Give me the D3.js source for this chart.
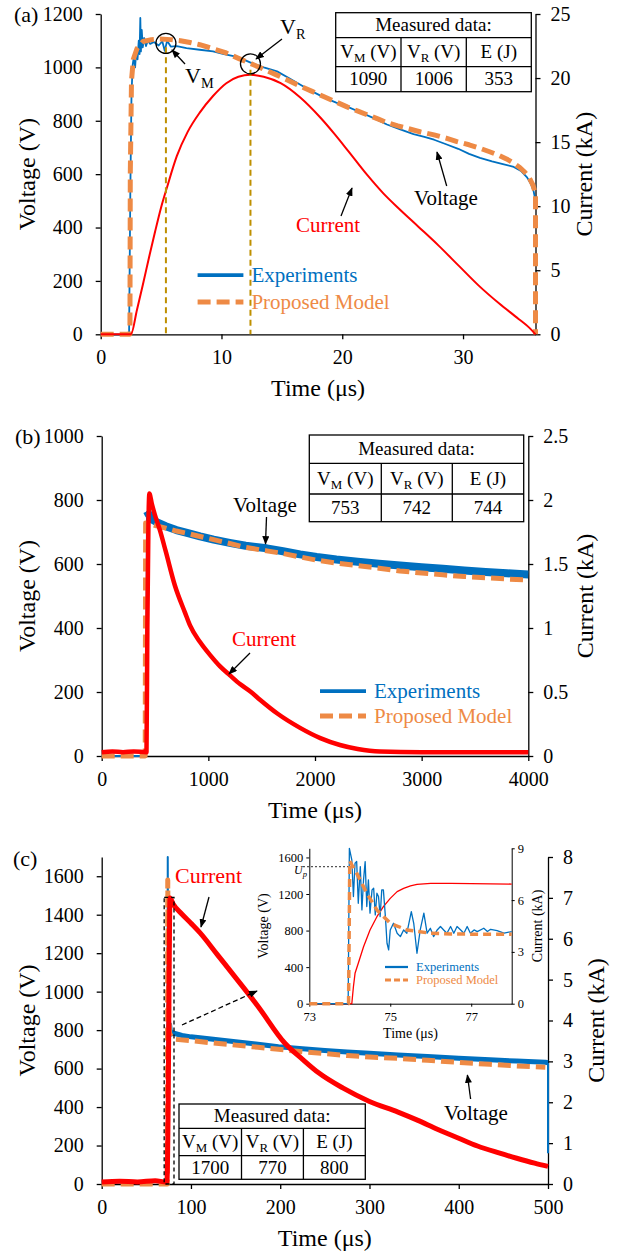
<!DOCTYPE html>
<html>
<head>
<meta charset="utf-8">
<script src="https://cdnjs.cloudflare.com/ajax/libs/d3/7.8.5/d3.min.js"></script>
<style>
body { margin: 0; background: #fff; }
</style>
</head>
<body>
<div id="chart-area"></div>
<script>
// ---------- data (time, value) ----------

// (a)
var expVoltA = [[0,0],[2.35,0],[2.45,520],[2.55,900],[2.65,1010],[2.75,1040],[2.85,1000],[2.95,1070],[3.05,1030],[3.15,1100],[3.22,1050],[3.28,1185],[3.33,1060],[3.4,1140],[3.48,1075],[3.6,1110],[3.75,1080],[3.9,1100],[4.1,1088],[4.4,1095],[4.8,1082],[5.1,1098],[5.3,1062],[5.5,1100],[5.8,1078],[6.3,1080],[7.1,1072],[8.2,1066],[9.3,1060],[10.2,1050],[11,1042],[11.8,1030],[12.6,1014],[13.5,1000],[14.6,985],[15.5,962],[16.5,936],[17.5,910],[18.6,885],[19.5,868],[20.4,853],[21.5,832],[22.6,810],[23.7,786],[24.8,768],[25.9,750],[26.8,740],[27.6,729],[28.6,712],[29.6,695],[30.5,676],[31.4,661],[32.4,648],[33.3,638],[34.2,627],[34.8,612],[35.3,588],[35.6,565],[35.85,535],[36,500]];
var modelVoltA = [[0,0],[2.42,0],[2.45,600],[2.55,950],[2.7,1030],[3.0,1070],[3.5,1097],[4.2,1104],[4.9,1106],[5.8,1104],[6.6,1100],[7.4,1093],[8.2,1085],[9.3,1070],[10.4,1054],[11.5,1032],[12.65,1010],[13.5,993],[14.5,973],[15.5,952],[16.5,930],[17.5,910],[18.5,890],[19.5,870],[20.4,852],[21.3,836],[22.2,820],[23.0,806],[23.7,793],[24.6,781],[25.5,770],[26.5,758],[27.6,747],[28.6,735],[29.5,722],[30.5,710],[31.4,697],[32.2,684],[33.0,670],[33.6,657],[34.2,641],[34.7,625],[35.1,608],[35.5,585],[35.8,558],[36.0,525],[36.0,0]];
var currentA = [[0,0],[2.5,0],[3.0,1.9],[3.5,3.9],[4.0,6.0],[4.5,8.0],[5.0,9.9],[5.5,11.5],[6.3,13.9],[7.2,15.8],[8.2,17.3],[9.3,18.6],[10.4,19.6],[11.4,20.1],[12.4,20.25],[13.5,20.1],[14.9,19.6],[16.5,18.5],[18.2,16.9],[19.3,15.7],[20.5,14.3],[22.1,12.4],[23.4,11.0],[24.7,9.8],[26.3,8.4],[28.0,6.9],[29.7,5.3],[31.3,3.8],[33.0,2.4],[34.6,1.2],[35.5,0.5],[36.0,0]];
var markA = [[5.4, 1090], [12.4, 1006]];      // V_M, V_R
var tableA = ["1090", "1006", "353"];

// (b)
var expVoltB = [[0,0],[415,0],[425,765],[440,755],[470,740],[520,730],[600,718],[700,706],[800,697],[922,686],[1050,676],[1200,666],[1350,657],[1547,649],[1700,640],[1860,630],[2016,622],[2200,614],[2400,607],[2600,601],[2797,595],[3000,590],[3200,585],[3400,580],[3600,575],[3800,571],[4000,567]];
var modelVoltB = [[0,0],[408,0],[412,728],[450,726],[515,719],[600,712],[700,703],[800,696],[922,686],[1050,676],[1200,664],[1350,652],[1547,641],[1700,633],[1860,622],[2016,612],[2200,603],[2400,595],[2600,587],[2797,578],[3000,572],[3200,566],[3400,561],[3600,557],[3800,553],[4000,550]];
var currentB = [[0,0.03],[100,0.035],[200,0.03],[300,0.035],[420,0.03],[428,1.0],[438,1.8],[447,2.05],[470,1.97],[500,1.88],[547,1.76],[600,1.6],[687,1.33],[781,1.12],[828,1.02],[922,0.89],[1015,0.79],[1110,0.7],[1203,0.63],[1300,0.56],[1400,0.5],[1484,0.44],[1650,0.33],[1860,0.22],[2050,0.14],[2234,0.086],[2400,0.055],[2609,0.035],[3000,0.03],[3500,0.03],[4000,0.03]];
var tableB = ["753", "742", "744"];

// (c)
var expVoltC = [[0,10],[15,6],[30,12],[45,8],[55,15],[65,8],[73.5,10],[74,1700],[74.5,1000],[75,800],[76,830],[77,790],[78,780],[80,785],[90,772],[100,765],[125,752],[150,740],[175,727],[198,714],[225,703],[250,694],[275,686],[300,680],[332,671],[365,663],[400,654],[435,646],[465,639],[497,633],[500,630],[500,160]];
var modelVoltC = [[0,0],[73.5,0],[74,1580],[74.5,1250],[75,880],[76,785],[78,765],[82.8,752],[100,745],[125,733],[150,722],[175,711],[198,700],[225,688],[250,678],[275,668],[300,660],[332,653],[365,643],[400,632],[435,622],[465,614],[497,607]];
var currentC = [[0,0.05],[20,0.07],[40,0.05],[60,0.08],[72,0.05],[73,0.05],[74.5,2],[75.5,5],[76.5,7.0],[80,6.85],[90,6.6],[100,6.38],[110,6.15],[130,5.6],[150,5.05],[175,4.35],[205,3.45],[225,3.05],[243,2.72],[270,2.35],[300,2.02],[332,1.76],[355,1.55],[376,1.34],[400,1.12],[421,0.93],[445,0.76],[465,0.63],[485,0.51],[500,0.43]];
var zoomBoxC = [70, 81, 1490];                 // t0, t1, V top
var tableC = ["1700", "770", "800"];

// (c) inset
var expVoltIn = [[73,0],[73.96,0],[73.99,1700],[74.05,1574],[74.09,1172],[74.13,1537],[74.17,1555],[74.21,1099],[74.26,1500],[74.3,1026],[74.34,1355],[74.38,1555],[74.42,1063],[74.46,1355],[74.5,990],[74.55,1245],[74.59,1263],[74.63,972],[74.67,1209],[74.71,1172],[74.75,953],[74.79,1245],[74.83,1245],[74.88,953],[74.92,661],[74.96,588],[75.0,807],[75.08,880],[75.17,771],[75.25,734],[75.33,807],[75.41,771],[75.52,1008],[75.58,880],[75.66,552],[75.74,807],[75.83,990],[75.91,771],[75.99,825],[76.07,734],[76.16,807],[76.24,844],[76.32,807],[76.4,771],[76.49,844],[76.57,771],[76.65,844],[76.74,807],[76.82,771],[76.9,844],[76.98,771],[77.07,807],[77.15,789],[77.31,825],[77.4,789],[77.48,814],[77.64,800],[77.81,771],[78.0,789]];
var modelVoltIn = [[73,0],[73.97,0],[74.0,1560],[74.05,1520],[74.17,1428],[74.42,1209],[74.67,1026],[75.0,880],[75.41,807],[75.99,771],[76.49,763],[77,761],[78,760]];
var currentIn = [[73,0],[74.05,0],[74.09,0.98],[74.13,1.76],[74.21,2.34],[74.34,3.3],[74.5,4.27],[74.67,5.04],[74.83,5.62],[75.0,6.1],[75.17,6.49],[75.33,6.68],[75.5,6.82],[75.66,6.91],[76.0,6.97],[76.5,6.97],[77,6.95],[78,6.93]];
var upIn = 1500;

// tick values
var ticksA = { x: [0,10,20,30], yL: [0,200,400,600,800,1000,1200], yR: [0,5,10,15,20,25] };
var ticksB = { x: [0,1000,2000,3000,4000], yL: [0,200,400,600,800,1000], yR: [0,0.5,1,1.5,2,2.5] };
var ticksC = { x: [0,100,200,300,400,500], yL: [0,200,400,600,800,1000,1200,1400,1600], yR: [0,1,2,3,4,5,6,7,8] };
var ticksIn = { x: [73,75,77], yL: [0,400,800,1200,1600], yR: [0,3,6,9] };

var headers = [["V","M"," (V)"], ["V","R"," (V)"], ["E (J)"]];

// ---------- styles ----------
var FONT = "Liberation Serif";
var BLUE = "#0070C0", ORANGE = "#EE8A45", RED = "#FF0000", GOLD = "#BF9000";

var svg = d3.select("#chart-area")
    .append("svg")
        .attr("width", 625)
        .attr("height", 1251)
        .attr("font-family", FONT);

svg.append("defs").append("marker")
    .attr("id", "arrow")
    .attr("viewBox", "0 0 10 8")
    .attr("refX", 9).attr("refY", 4)
    .attr("markerWidth", 9).attr("markerHeight", 7)
    .attr("markerUnits", "userSpaceOnUse")
    .attr("orient", "auto")
  .append("path")
    .attr("d", "M0,0 L10,4 L0,8 z")
    .attr("fill", "#000");

function fmt(d) { return d; }

function makePanel(p) {
    var x = d3.scaleLinear().domain(p.xDom).range([p.left, p.right]);
    var yL = d3.scaleLinear().domain(p.yLDom).range([p.bottom, p.top]);
    var yR = d3.scaleLinear().domain(p.yRDom).range([p.bottom, p.top]);

    function style(sel) {
        sel.attr("font-family", FONT).attr("font-size", p.fs);
        sel.select(".domain").attr("stroke", "#000").attr("stroke-width", p.sw);
        sel.selectAll(".tick line").attr("stroke", "#000").attr("stroke-width", p.sw);
        sel.selectAll("text").attr("fill", "#000").attr("font-family", FONT);
    }

    svg.append("g")
        .attr("transform", "translate(0," + p.bottom + ")")
        .call(d3.axisBottom(x).tickValues(p.ticks.x).tickFormat(fmt)
            .tickSize(p.tk).tickSizeOuter(0).tickPadding(p.padB))
        .call(style);

    svg.append("g")
        .attr("transform", "translate(" + p.left + ",0)")
        .call(d3.axisLeft(yL).tickValues(p.ticks.yL).tickFormat(fmt)
            .tickSize(p.tk).tickSizeOuter(0).tickPadding(p.padL))
        .call(style);

    svg.append("g")
        .attr("transform", "translate(" + p.right + ",0)")
        .call(d3.axisRight(yR).tickValues(p.ticks.yR).tickFormat(fmt)
            .tickSize(p.tk).tickSizeOuter(0).tickPadding(p.padR))
        .call(style);

    // axis titles
    var mid = (p.top + p.bottom) / 2;
    svg.append("text")
        .attr("transform", "translate(" + p.tL + "," + mid + ") rotate(-90)")
        .attr("text-anchor", "middle")
        .attr("font-family", FONT)
        .attr("font-size", p.tfs)
        .text("Voltage (V)");
    svg.append("text")
        .attr("transform", "translate(" + p.tR + "," + mid + ") rotate(-90)")
        .attr("text-anchor", "middle")
        .attr("font-family", FONT)
        .attr("font-size", p.tfs)
        .text("Current (kA)");
    svg.append("text")
        .attr("x", (p.left + p.right) / 2)
        .attr("y", p.bottom + p.tB)
        .attr("text-anchor", "middle")
        .attr("font-family", FONT)
        .attr("font-size", p.tfs)
        .text("Time (\u03bcs)");

    return { x: x, yL: yL, yR: yR };
}

function drawLine(data, x, y, color, width, dash, smooth) {
    var line = d3.line()
        .curve(smooth ? d3.curveMonotoneX : d3.curveLinear)
        .x(function(d) { return x(d[0]); })
        .y(function(d) { return y(d[1]); });
    svg.append("path")
        .datum(data)
        .attr("d", line)
        .attr("fill", "none")
        .attr("stroke", color)
        .attr("stroke-width", width)
        .attr("stroke-linejoin", "round")
        .attr("stroke-dasharray", dash || null);
}

function arrow(x1, y1, x2, y2, dash) {
    svg.append("line")
        .attr("x1", x1).attr("y1", y1).attr("x2", x2).attr("y2", y2)
        .attr("stroke", "#000")
        .attr("stroke-width", 1.3)
        .attr("stroke-dasharray", dash || null)
        .attr("marker-end", "url(#arrow)");
}

function label(x, y, txt, size, color) {
    return svg.append("text")
        .attr("x", x).attr("y", y)
        .attr("font-family", FONT)
        .attr("font-size", size)
        .attr("fill", color || "#000")
        .text(txt);
}

function subLabel(x, y, main, sub, size) {
    var t = svg.append("text").attr("x", x).attr("y", y)
        .attr("font-family", FONT).attr("font-size", size);
    t.append("tspan").text(main);
    t.append("tspan").attr("font-size", size * 0.65).attr("dy", size * 0.22).text(sub);
}

function legend(x0, x1, y1, y2, size, dashW, dash) {
    svg.append("line").attr("x1", x0).attr("x2", x1).attr("y1", y1).attr("y2", y1)
        .attr("stroke", BLUE).attr("stroke-width", dashW * 0.75);
    svg.append("line").attr("x1", x0).attr("x2", x1).attr("y1", y2).attr("y2", y2)
        .attr("stroke", ORANGE).attr("stroke-width", dashW).attr("stroke-dasharray", dash);
    label(x1 + 8, y1 + size * 0.33, "Experiments", size, BLUE);
    label(x1 + 8, y2 + size * 0.33, "Proposed Model", size, ORANGE);
}

function drawTable(cols, rows, vals, fs) {
    var g = svg.append("g").attr("font-family", FONT);
    g.append("rect")
        .attr("x", cols[0]).attr("y", rows[0])
        .attr("width", cols[3] - cols[0]).attr("height", rows[3] - rows[0])
        .attr("fill", "#fff").attr("stroke", "#000").attr("stroke-width", 1.3);
    [1, 2].forEach(function(i) {
        g.append("line").attr("x1", cols[0]).attr("x2", cols[3])
            .attr("y1", rows[i]).attr("y2", rows[i])
            .attr("stroke", "#000").attr("stroke-width", 1.3);
        g.append("line").attr("x1", cols[i]).attr("x2", cols[i])
            .attr("y1", rows[1]).attr("y2", rows[3])
            .attr("stroke", "#000").attr("stroke-width", 1.3);
    });
    function cy(r) { return (rows[r] + rows[r + 1]) / 2 + fs * 0.33; }
    g.append("text")
        .attr("x", (cols[0] + cols[3]) / 2).attr("y", cy(0))
        .attr("text-anchor", "middle").attr("font-size", fs)
        .text("Measured data:");
    headers.forEach(function(h, i) {
        var t = g.append("text")
            .attr("x", (cols[i] + cols[i + 1]) / 2).attr("y", cy(1))
            .attr("text-anchor", "middle").attr("font-size", fs);
        t.append("tspan").text(h[0]);
        if (h.length > 1) {
            t.append("tspan").attr("font-size", fs * 0.68).attr("dy", 4).text(h[1]);
            t.append("tspan").attr("dy", -4).text(h[2]);
        }
    });
    vals.forEach(function(v, i) {
        g.append("text")
            .attr("x", (cols[i] + cols[i + 1]) / 2).attr("y", cy(2))
            .attr("text-anchor", "middle").attr("font-size", fs)
            .text(v);
    });
}

var DASH = "13,6";

// ================= (a) =================
var pa = makePanel({
    left: 100.7, right: 535.5, top: 14, bottom: 334.3,
    xDom: [0, 36], yLDom: [0, 1200], yRDom: [0, 25], ticks: ticksA,
    fs: 20, sw: 1.3, tk: 5, padB: 11, padL: 13, padR: 10,
    tfs: 24, tL: 35, tR: 592, tB: 62
});
label(14, 22, "(a)", 22);

drawLine(expVoltA, pa.x, pa.yL, BLUE, 1.8);
drawLine(modelVoltA, pa.x, pa.yL, ORANGE, 5, DASH);
drawLine(currentA, pa.x, pa.yR, RED, 2, null, true);

// V_M / V_R markers
markA.forEach(function(d, i) {
    svg.append("line")
        .attr("x1", pa.x(d[0])).attr("x2", pa.x(d[0]))
        .attr("y1", pa.yL(d[1]) + 4).attr("y2", pa.yL(0))
        .attr("stroke", GOLD).attr("stroke-width", 2)
        .attr("stroke-dasharray", "6,4");
    svg.append("circle")
        .attr("cx", pa.x(d[0])).attr("cy", pa.yL(d[1]) - (i ? 2 : 0))
        .attr("r", 10)
        .attr("fill", "none").attr("stroke", "#000").attr("stroke-width", 1.3);
});
subLabel(185, 83, "V", "M", 22);
arrow(185, 64, 172, 50);
subLabel(280, 34, "V", "R", 22);
arrow(282, 39, 256, 59);

label(414, 205, "Voltage", 21);
arrow(446.7, 186, 437, 152);
label(296, 232, "Current", 21, RED);
arrow(341, 216, 352, 188);

legend(197.6, 243.4, 275, 302, 21, 5, DASH);
drawTable([335.7, 401, 466.3, 531.3], [12.7, 37.7, 66.7, 91.7], tableA, 19);

// ================= (b) =================
var pb = makePanel({
    left: 101.7, right: 528.3, top: 436, bottom: 756,
    xDom: [0, 4000], yLDom: [0, 1000], yRDom: [0, 2.5], ticks: ticksB,
    fs: 20, sw: 1.3, tk: 5, padB: 11, padL: 13, padR: 10,
    tfs: 24, tL: 35, tR: 593, tB: 62
});
label(15, 444, "(b)", 22);

drawLine(expVoltB.slice(0, 3), pb.x, pb.yL, BLUE, 2);   // rise
drawLine(expVoltB.slice(2), pb.x, pb.yL, BLUE, 8);      // noisy band
drawLine(modelVoltB, pb.x, pb.yL, ORANGE, 5, DASH);
drawLine(currentB, pb.x, pb.yR, RED, 4.5, null, true);

label(233, 512, "Voltage", 21);
arrow(266.5, 517, 265.5, 544);
label(232, 646, "Current", 21, RED);
arrow(250, 653, 229, 674);

legend(320, 366, 691, 716, 21, 5, DASH);
drawTable([309.3, 381.3, 452.3, 523.7], [435, 463.3, 494, 521.7], tableB, 19);

// ================= (c) =================
var pc = makePanel({
    left: 101.7, right: 548, top: 857, bottom: 1184,
    xDom: [0, 500], yLDom: [0, 1700], yRDom: [0, 8], ticks: ticksC,
    fs: 20, sw: 1.3, tk: 5, padB: 11, padL: 13, padR: 10,
    tfs: 24, tL: 35, tR: 604, tB: 62
});
label(13, 866, "(c)", 22);

var nC = expVoltC.length;
drawLine(expVoltC.slice(0, 10), pc.x, pc.yL, BLUE, 2);        // baseline + front
drawLine(expVoltC.slice(9, nC - 1), pc.x, pc.yL, BLUE, 5);    // noisy band
drawLine(expVoltC.slice(nC - 2), pc.x, pc.yL, BLUE, 2);       // tail drop
drawLine(modelVoltC, pc.x, pc.yL, ORANGE, 5, DASH);
drawLine(currentC, pc.x, pc.yR, RED, 5, null, true);

// zoom box around the front
svg.append("rect")
    .attr("x", pc.x(zoomBoxC[0])).attr("y", pc.yL(zoomBoxC[2]))
    .attr("width", pc.x(zoomBoxC[1]) - pc.x(zoomBoxC[0]))
    .attr("height", pc.yL(0) - pc.yL(zoomBoxC[2]))
    .attr("fill", "none").attr("stroke", "#000")
    .attr("stroke-width", 1.3).attr("stroke-dasharray", "4,3");
arrow(182, 1025, 257, 991, "5,3");

label(175, 883, "Current", 22, RED);
arrow(209, 897, 201, 927);
label(444, 1120, "Voltage", 21);
arrow(470.6, 1099, 467.4, 1075);

drawTable([179, 241.5, 303.4, 365.3], [1104, 1128.3, 1155.7, 1179.3], tableC, 19);

// ---- inset ----
var pi = makePanel({
    left: 309.3, right: 511.7, top: 848.3, bottom: 1003.7,
    xDom: [73, 78], yLDom: [0, 1700], yRDom: [0, 9], ticks: ticksIn,
    fs: 12.5, sw: 1, tk: 3, padB: 5, padL: 3, padR: 3,
    tfs: 14, tL: 268, tR: 542, tB: 34
});

svg.append("line")
    .attr("x1", 303).attr("x2", pi.x(74))
    .attr("y1", pi.yL(upIn)).attr("y2", pi.yL(upIn))
    .attr("stroke", "#555").attr("stroke-width", 1.2)
    .attr("stroke-dasharray", "2,2");
var up = svg.append("text")
    .attr("x", 294).attr("y", pi.yL(upIn) + 7)
    .attr("font-family", FONT)
    .attr("font-size", 12).attr("font-style", "italic");
up.append("tspan").text("U");
up.append("tspan").attr("font-size", 8.5).attr("dy", 3).text("p");

drawLine(currentIn, pi.x, pi.yR, RED, 1.3);
drawLine(expVoltIn, pi.x, pi.yL, BLUE, 1.3);
drawLine(modelVoltIn, pi.x, pi.yL, ORANGE, 3.5, "8,5");

legend(385, 408, 967, 980, 12.5, 3, "6,3");
</script>
</body>
</html>
